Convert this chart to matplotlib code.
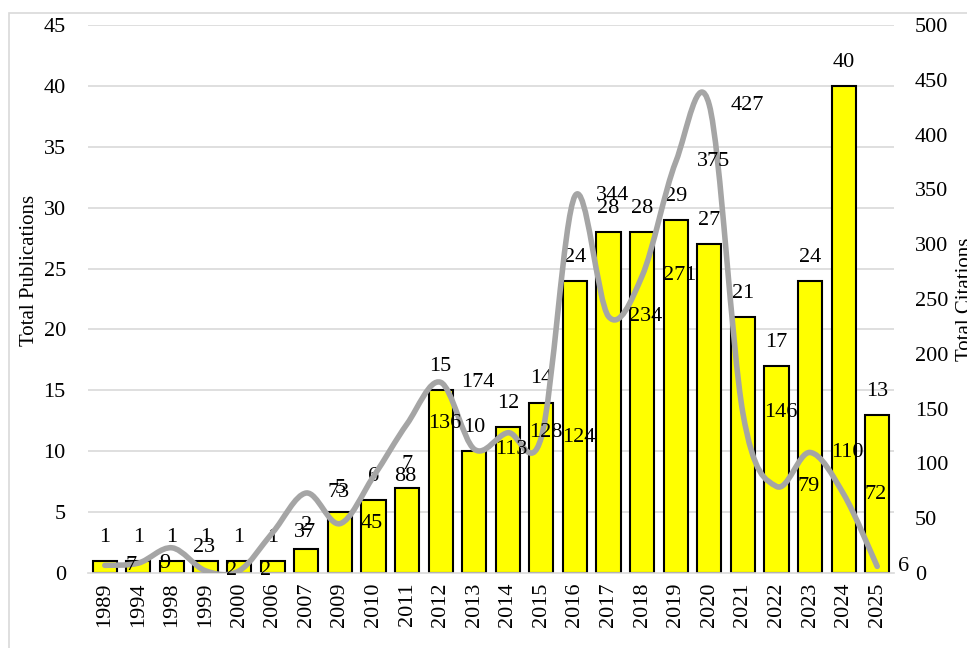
import numpy as np
import matplotlib
matplotlib.use("Agg")
import matplotlib.pyplot as plt
from matplotlib.path import Path
from matplotlib.patches import PathPatch, Rectangle

plt.rcParams['font.family'] = ['Liberation Serif', 'DejaVu Serif']

years = ['1989', '1994', '1998', '1999', '2000', '2006', '2007', '2009',
         '2010', '2011', '2012', '2013', '2014', '2015', '2016', '2017',
         '2018', '2019', '2020', '2021', '2022', '2023', '2024', '2025']
publications = [1, 1, 1, 1, 1, 1, 2, 5, 6, 7, 15, 10, 12, 14, 24, 28,
                28, 29, 27, 21, 17, 24, 40, 13]
citations = [7, 9, 23, 2, 2, 37, 73, 45, 88, 136, 174, 113, 128, 124, 344,
             234, 271, 375, 427, 146, 79, 110, 72, 6]

W, H = 967, 648
fig = plt.figure(figsize=(W / 100, H / 100), dpi=100)
ax = fig.add_axes([88 / W, 1 - 573 / H, 806 / W, 548 / H])
ax2 = ax.twinx()

x = np.arange(len(years))
ax.set_zorder(1)
ax.patch.set_visible(False)
ax2.set_zorder(2)

# grid lines (from left axis)
for v in range(5, 50, 5):
    ax.axhline(v, color='#d9d9d9', lw=1.2, zorder=0)

ax.bar(x, publications, width=0.72, color='#ffff00', edgecolor='black',
       linewidth=1.5, zorder=2)
for xi, v in zip(x, publications):
    ax.annotate(str(v), (xi, v), xytext=(0, 17), textcoords='offset points',
                ha='center', va='center', fontsize=16)

ax.set_xlim(-0.5, len(years) - 0.5)
ax.set_ylim(0, 45)
ax.set_yticks(range(0, 50, 5))
ax.set_xticks(x)
ax.set_xticklabels(years, rotation=90)
ax.tick_params(axis='y', length=0, pad=16, labelsize=16)
ax.tick_params(axis='x', length=0, pad=7, labelsize=16)
for s in ['top', 'right', 'left']:
    ax.spines[s].set_visible(False)
ax.spines['bottom'].set_color('#d9d9d9')
ax.spines['bottom'].set_linewidth(1.2)

# smoothed citation line (bezier like excel)
pts = np.column_stack([x, citations]).astype(float)
verts = [pts[0]]
codes = [Path.MOVETO]
n = len(pts)
for i in range(n - 1):
    p0 = pts[i - 1] if i > 0 else pts[i]
    p1 = pts[i]
    p2 = pts[i + 1]
    p3 = pts[i + 2] if i + 2 < n else pts[i + 1]
    c1 = p1 + (p2 - p0) / 6.0
    c2 = p2 - (p3 - p1) / 6.0
    verts += [c1, c2, p2]
    codes += [Path.CURVE4] * 3
ax2.add_patch(PathPatch(Path(verts, codes), facecolor='none',
                        edgecolor='#a5a5a5', lw=4, capstyle='round',
                        joinstyle='round', zorder=3))
for xi, v in zip(x, citations):
    ax2.annotate(str(v), (xi, v), xytext=(15, 0), textcoords='offset points',
                 ha='left', va='center', fontsize=16)

ax2.set_ylim(0, 500)
ax2.set_yticks(range(0, 550, 50))
ax2.tick_params(axis='y', length=0, pad=15, labelsize=16)
for s in ax2.spines.values():
    s.set_visible(False)

fig.text(30 / W, 1 - 270 / H, 'Total Publications', rotation=90,
         ha='center', va='center', fontsize=15)
fig.text(966 / W, 1 - 299 / H, 'Total Citations', rotation=90,
         ha='center', va='center', fontsize=15)

fig.patches.append(Rectangle((9 / W, -0.1), 1.2, 1.1 - 13 / H,
                             transform=fig.transFigure, fill=False,
                             edgecolor='#d9d9d9', lw=1.2))

fig.savefig('out.png', dpi=100)
